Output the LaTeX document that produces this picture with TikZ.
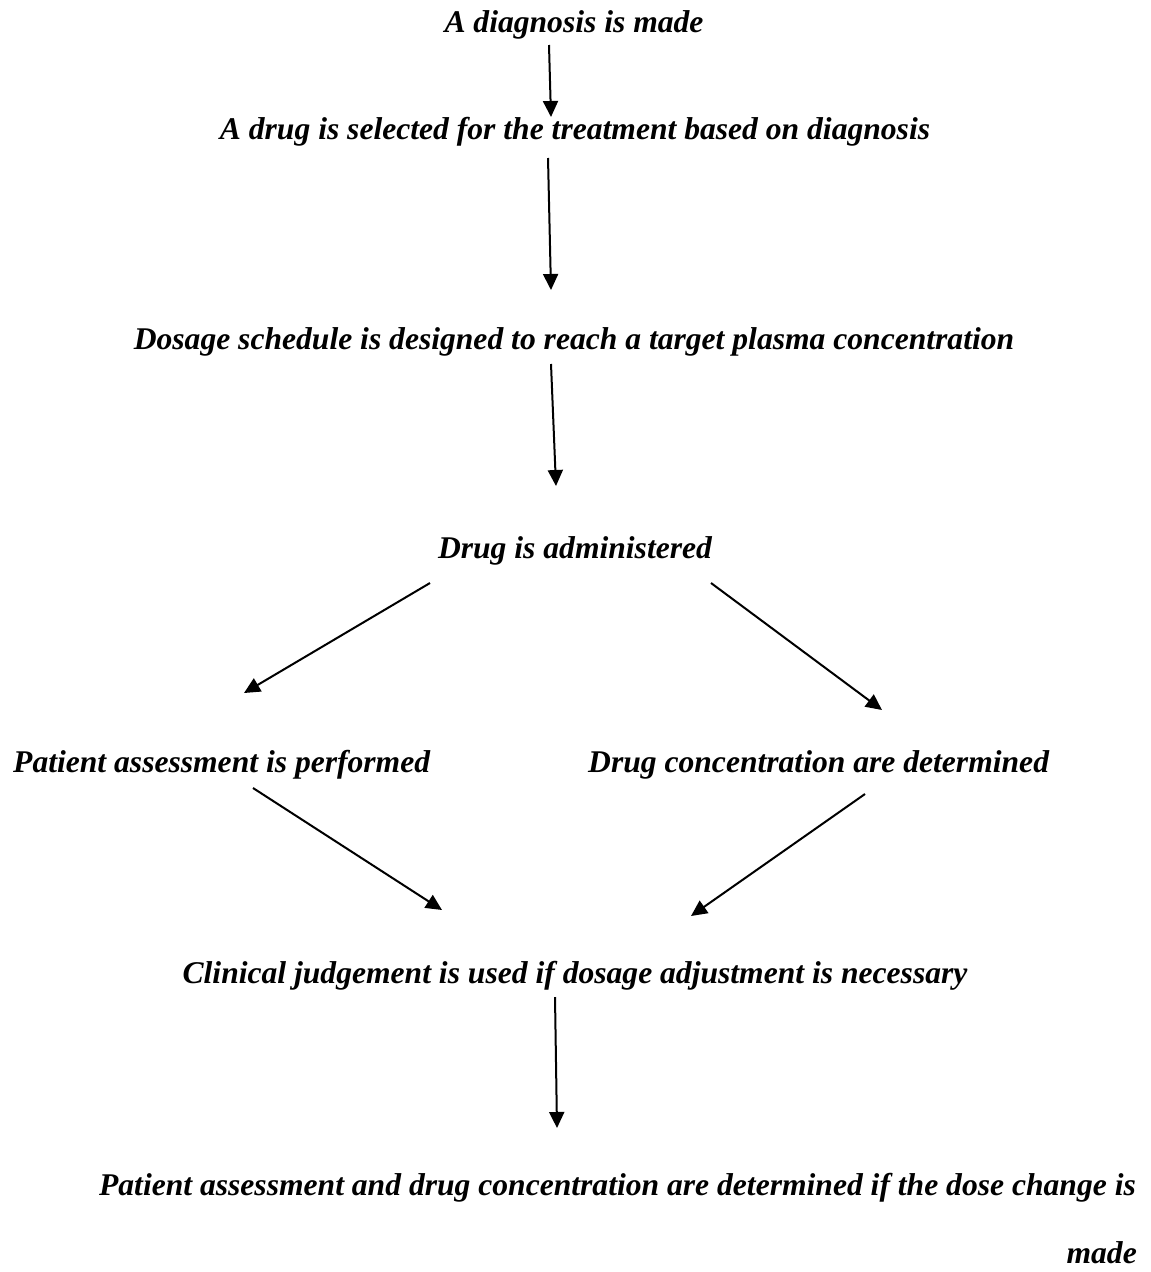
\documentclass[tikz,border=0pt]{standalone}
\usepackage{fontspec}
\setmainfont{Liberation Serif}
\usetikzlibrary{arrows.meta}
\begin{document}
\begin{tikzpicture}[x=1pt,y=-1pt,
  lbl/.style={font=\fontsize{31.6}{38}\selectfont\bfseries\itshape, inner sep=0pt},
  conn/.style={line width=2pt, -{Triangle[length=16pt,width=15pt]}}]
\useasboundingbox (0,0) rectangle (1151,1272);
\node[lbl, anchor=base] (t1) at (574,32) {A diagnosis is made};
\node[lbl, anchor=base] (t2) at (575,139) {A drug is selected for the treatment based on diagnosis};
\node[lbl, anchor=base] (t3) at (574,349) {Dosage schedule is designed to reach a target plasma concentration};
\node[lbl, anchor=base] (t4) at (575,558) {Drug is administered};
\node[lbl, anchor=base west] (t5) at (13,772) {Patient assessment is performed};
\node[lbl, anchor=base west] (t6) at (588,772) {Drug concentration are determined};
\node[lbl, anchor=base] (t7) at (575,983) {Clinical judgement is used if dosage adjustment is necessary};
\node[lbl, anchor=base east] (t8) at (1136,1195) {Patient assessment and drug concentration are determined if the dose change is};
\node[lbl, anchor=base east] (t9) at (1137,1263) {made};

\coordinate (a1s) at (549,45);  \coordinate (a1e) at (551,117);
\coordinate (a2s) at (548,158); \coordinate (a2e) at (551,290);
\coordinate (a3s) at (551,364); \coordinate (a3e) at (556,486);
\coordinate (a4s) at (430,583); \coordinate (a4e) at (244,693);
\coordinate (a5s) at (711,583); \coordinate (a5e) at (882,710);
\coordinate (a6s) at (253,788); \coordinate (a6e) at (442,910);
\coordinate (a7s) at (865,794); \coordinate (a7e) at (691,916);
\coordinate (a8s) at (555,997); \coordinate (a8e) at (557,1128);

\draw[conn] (a1s) -- (a1e);
\draw[conn] (a2s) -- (a2e);
\draw[conn] (a3s) -- (a3e);
\draw[conn] (a4s) -- (a4e);
\draw[conn] (a5s) -- (a5e);
\draw[conn] (a6s) -- (a6e);
\draw[conn] (a7s) -- (a7e);
\draw[conn] (a8s) -- (a8e);
\end{tikzpicture}
\end{document}
